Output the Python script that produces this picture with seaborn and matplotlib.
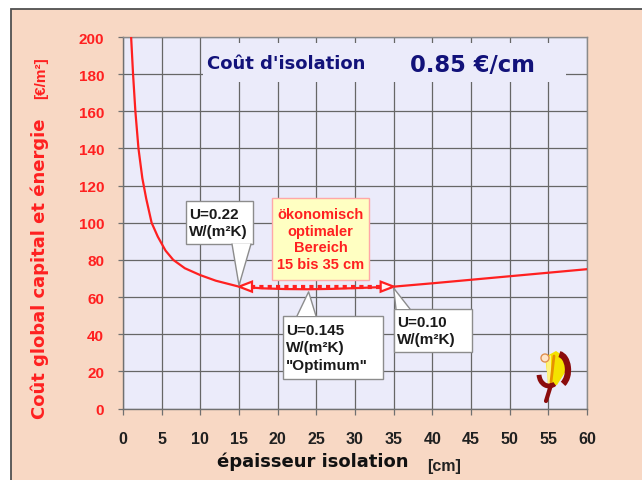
import matplotlib
matplotlib.use("Agg")
import matplotlib.pyplot as plt
import seaborn as sns
import pandas as pd
from matplotlib.patches import Rectangle, Polygon, Arc, Circle
from matplotlib.lines import Line2D
from matplotlib.transforms import IdentityTransform

# ---------------- data ----------------
thickness_cm = [1.05, 1.3, 1.6, 2.0, 2.5, 3.0, 3.7, 4.5, 5.5, 6.5, 8, 10, 12,
                15, 18, 21, 24, 27, 30, 35, 40, 45, 50, 55, 60]
cost_eur_m2 = [200, 180, 160, 140, 124, 113, 100, 92.5, 85, 80, 75.5, 71.8, 68.8,
               65.6, 64.7, 64.3, 64.2, 64.4, 64.8, 65.6, 67.4, 69.3, 71.2, 73.1, 75.0]
x_ticks = list(range(0, 61, 5))
y_ticks = list(range(0, 201, 20))
range_start_cm = 15
range_end_cm = 35
range_level = 65.6
optimum_cm = 24
title_left = "Coût d'isolation"
title_right = "0.85 €/cm"
label_u_start = "U=0.22\nW/(m²K)"
label_u_end = "U=0.10\nW/(m²K)"
label_u_opt = "U=0.145\nW/(m²K)\n\"Optimum\""
label_range = "ökonomisch\noptimaler\nBereich\n15 bis 35 cm"
ylabel_main = "Coût global capital et énergie"
ylabel_unit = "[€/m²]"
xlabel_main = "épaisseur isolation"
xlabel_unit = "[cm]"

df = pd.DataFrame({"x": thickness_cm, "y": cost_eur_m2})

# ---------------- styling ----------------
sns.set_theme(style="white")
plt.rcParams["font.family"] = ["Liberation Sans", "DejaVu Sans"]

W, H = 642, 481
PEACH = "#F8D8C4"
LAV = "#EBEBFA"
RED = "#FF2020"
NAVY = "#12127A"
GRID = "#666666"

fig = plt.figure(figsize=(W / 100, H / 100), dpi=100, facecolor="white")

def D(x, y):
    return (x, H - y)

# peach panel with dark border
fig.add_artist(Rectangle(D(11, 10), 700, -500, transform=IdentityTransform(),
                         facecolor=PEACH, edgecolor="#505050", lw=1.3, zorder=-5))

AX_L, AX_R, AX_T, AX_B = 123, 587, 38, 409.5
ax = fig.add_axes([AX_L / W, 1 - AX_B / H, (AX_R - AX_L) / W, (AX_B - AX_T) / H])
ax.set_facecolor(LAV)
ax.set_xlim(0, 60)
ax.set_ylim(0, 200)

def P(xp, yp):
    return ((xp - AX_L) / (AX_R - AX_L) * 60, (AX_B - yp) / (AX_B - AX_T) * 200)

ax.set_xticks(x_ticks)
ax.set_yticks(y_ticks)
ax.set_axisbelow(True)
ax.grid(True, color=GRID, lw=0.9)
for s in ax.spines.values():
    s.set_color("#8A8A8A")
    s.set_linewidth(1)
ax.spines["left"].set_color("#707070")
ax.spines["bottom"].set_color("#707070")
ax.tick_params(axis="y", left=True, length=3.6, width=0.9, color="#707070", pad=10,
               labelcolor=RED, labelsize=11)
ax.tick_params(axis="x", bottom=True, length=4.5, width=0.9, color="#707070", pad=12,
               labelcolor="#202020", labelsize=11.5)
for lab in ax.get_xticklabels() + ax.get_yticklabels():
    lab.set_fontweight("bold")
    lab.set_family("Liberation Sans")

# title box covering the grid
x0, y0 = P(203, 83)
x1, y1 = P(566, 44)
ax.add_patch(Rectangle((x0, y0), x1 - x0, y1 - y0, facecolor=LAV, edgecolor="none", zorder=1))

# curve
sns.lineplot(data=df, x="x", y="y", ax=ax, color=RED, lw=1.6, zorder=3, legend=False)
ax.set_xlabel("")
ax.set_ylabel("")

# dotted double arrow
ax.plot([range_start_cm + 1.5, range_end_cm - 1.5], [range_level, range_level], color=RED,
        lw=3, ls=(0, (1, 1)), zorder=4)
hl = 13 / (AX_R - AX_L) * 60
hw = 5 / (AX_B - AX_T) * 200
for tip, d in ((range_start_cm, 1), (range_end_cm, -1)):
    ax.add_patch(Polygon([(tip, range_level), (tip + d * hl, range_level + hw),
                          (tip + d * hl, range_level - hw)], closed=True,
                         facecolor="#FFF4F4", edgecolor=RED, lw=1.6, zorder=5))

# callout boxes
def callout(bx0, by0, bx1, by1, text, tx, base, tip, base_y):
    a = P(bx0, by1)
    b = P(bx1, by0)
    ax.add_patch(Rectangle(a, b[0] - a[0], b[1] - a[1], facecolor="white",
                           edgecolor="#8C8C8C", lw=1, zorder=6))
    p0 = P(base[0], base_y)
    p1 = P(base[1], base_y)
    ax.add_patch(Polygon([p0, tip, p1], closed=True, facecolor="white",
                         edgecolor="none", zorder=7))
    ax.plot([p0[0], tip[0], p1[0]], [p0[1], tip[1], p1[1]], color="#8C8C8C", lw=1, zorder=7)
    tpx = P(tx, (by0 + by1) / 2)
    ax.text(tpx[0], tpx[1], text, ha="left", va="center", fontsize=11, fontweight="bold",
            family="Liberation Sans", color="#1A1A1A", linespacing=1.28, zorder=8)

callout(186, 202, 253, 245, label_u_start, 189, (232, 251), (range_start_cm, 66.3), 245)
callout(283, 317, 383, 380, label_u_opt, 286, (297, 316), (optimum_cm, 62.8), 317)
callout(394, 310, 472, 353, label_u_end, 397, (396, 410), (range_end_cm, 64.8), 310)

# yellow range box
a = P(272, 281)
b = P(369, 199)
ax.add_patch(Rectangle(a, b[0] - a[0], b[1] - a[1], facecolor="#FFFFC2",
                       edgecolor="#FFA8A8", lw=1, zorder=6))
c = P(320.5, 240)
ax.text(c[0], c[1], label_range, ha="center", va="center", fontsize=10.5,
        fontweight="bold", family="Liberation Sans", color=RED, linespacing=1.22, zorder=8)

# titles
fig.text(207 / W, 1 - 69 / H, title_left, family="DejaVu Sans", fontweight="bold",
         fontsize=13, color=NAVY, ha="left", va="baseline")
fig.text(410 / W, 1 - 71.5 / H, title_right, family="DejaVu Sans", fontweight="bold",
         fontsize=16.3, color=NAVY, ha="left", va="baseline")

# axis labels
fig.text(40 / W, 1 - 269 / H, ylabel_main, family="DejaVu Sans", fontweight="bold",
         fontsize=13, color=RED, rotation=90, ha="center", va="center")
fig.text(41 / W, 1 - 78.5 / H, ylabel_unit, family="Liberation Sans", fontweight="bold",
         fontsize=11, color=RED, rotation=90, ha="center", va="center")
fig.text(217 / W, 1 - 467 / H, xlabel_main, family="DejaVu Sans", fontweight="bold",
         fontsize=13, color="#111111", ha="left", va="baseline")
fig.text(427 / W, 1 - 471 / H, xlabel_unit, family="Liberation Sans", fontweight="bold",
         fontsize=11.5, color="#222222", ha="left", va="baseline")

# small logo
T = IdentityTransform()
DARK = "#8B0C0C"
fig.add_artist(Polygon([D(545, 358), D(556, 352), D(565, 358), D(566, 372), D(557, 386),
                        D(549, 388)], closed=True, transform=T, facecolor="#F4E200",
                       edgecolor="none", zorder=10))
fig.add_artist(Polygon([D(546, 360), D(551, 356), D(551, 386), D(548, 387)], closed=True,
                       transform=T, facecolor="#FFF27A", edgecolor="none", zorder=10))
fig.add_artist(Line2D([554, 551], [H - 357, H - 383], transform=T, color="#E89000", lw=2,
                      zorder=11))
fig.add_artist(Arc(D(558, 371), 20, 32, theta1=-70, theta2=85, transform=T, color=DARK,
                   lw=4.5, zorder=12))
fig.add_artist(Arc(D(549, 375), 20, 24, theta1=185, theta2=300, transform=T, color=DARK,
                   lw=3.5, zorder=12))
fig.add_artist(Line2D([551, 546], [H - 386, H - 402], transform=T, color=DARK, lw=3,
                      zorder=12))
fig.add_artist(Circle(D(545, 359), 4, transform=T, facecolor="#FFE4C8", edgecolor="#E09050",
                      lw=1, zorder=13))

fig.savefig("out.png", dpi=100, facecolor="white")
